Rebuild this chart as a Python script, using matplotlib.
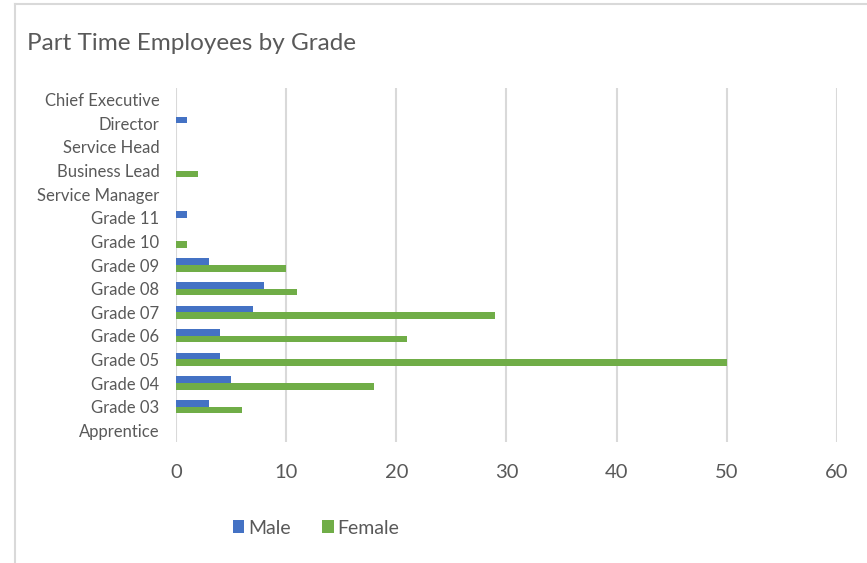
import numpy as np
import matplotlib
matplotlib.use('Agg')
import matplotlib.pyplot as plt
from matplotlib.lines import Line2D
from matplotlib.patches import Patch

# ── Data ──────────────────────────────────────────────────────────────────────
grades = ['Apprentice', 'Grade 03', 'Grade 04', 'Grade 05', 'Grade 06',
          'Grade 07', 'Grade 08', 'Grade 09', 'Grade 10', 'Grade 11',
          'Service Manager', 'Business Lead', 'Service Head', 'Director',
          'Chief Executive']
male = [0, 3, 5, 4, 4, 7, 8, 3, 0, 1, 0, 0, 0, 1, 0]
female = [0, 6, 18, 50, 21, 29, 11, 10, 1, 0, 0, 2, 0, 0, 0]
x_ticks = [0, 10, 20, 30, 40, 50, 60]

MALE_C = '#4472c4'
FEMALE_C = '#70ad47'
TXT = '#595959'

plt.rcParams['font.family'] = ['Lato', 'DejaVu Sans']

fig = plt.figure(figsize=(8.67, 5.63), dpi=100, facecolor='white')
ax = fig.add_axes([176 / 867, 1 - 442 / 563, (837 - 176) / 867, (442 - 88) / 563])

y = np.arange(len(grades))
h = 0.28
ax.barh(y + h / 2, male, height=h, color=MALE_C, zorder=3)
ax.barh(y - h / 2, female, height=h, color=FEMALE_C, zorder=3)

ax.set_xlim(0, 60)
ax.set_ylim(-0.5, len(grades) - 0.5)
ax.set_xticks(x_ticks)
ax.set_xticklabels([str(t) for t in x_ticks], fontsize=14.5, color=TXT)
ax.set_yticks(y)
ax.set_yticklabels(grades, fontsize=12, color=TXT)
ax.tick_params(axis='both', length=0)
ax.tick_params(axis='x', pad=16)
ax.tick_params(axis='y', pad=12)
ax.grid(axis='x', color='#d9d9d9', linewidth=1.5, zorder=0)
for s in ax.spines.values():
    s.set_visible(False)

fig.text(27 / 867, 1 - 43 / 563, 'Part Time Employees by Grade',
         fontsize=17.5, color=TXT, va='center', ha='left')

handles = [Patch(facecolor=MALE_C, label='Male'),
           Patch(facecolor=FEMALE_C, label='Female')]
fig.legend(handles=handles, loc='center', bbox_to_anchor=(316 / 867, 1 - 528 / 563),
           ncol=2, frameon=False, fontsize=14, labelcolor=TXT,
           handlelength=0.6, handleheight=0.6, handletextpad=0.2,
           columnspacing=1.6)

# chart border
fig.add_artist(Line2D([15 / 867, 1], [1 - 4 / 563, 1 - 4 / 563],
                      color='#d9d9d9', linewidth=1.5))
fig.add_artist(Line2D([15 / 867, 15 / 867], [0, 1 - 4 / 563],
                      color='#d9d9d9', linewidth=1.5))

plt.savefig('out.png', dpi=100, facecolor='white')
